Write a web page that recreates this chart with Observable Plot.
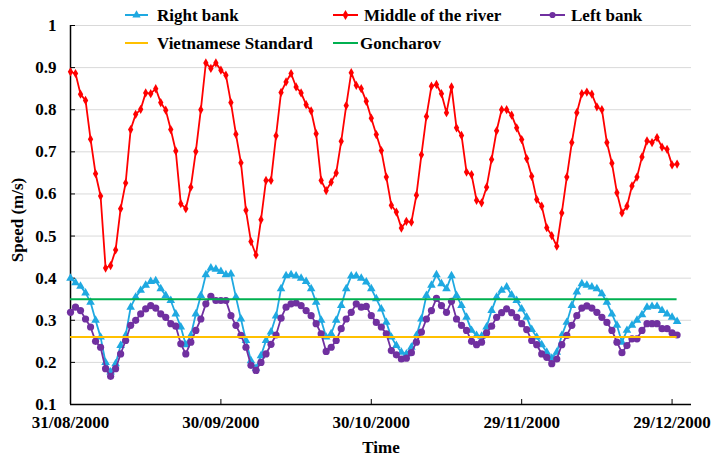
<!DOCTYPE html>
<html>
<head>
<meta charset="utf-8">
<script src="https://cdn.jsdelivr.net/npm/d3@7"></script>
<script src="https://cdn.jsdelivr.net/npm/@observablehq/plot@0.6"></script>
<style>
  html, body { margin: 0; padding: 0; background: #fff; }
  #wrap { position: relative; width: 719px; height: 461px; font-family: "Liberation Serif", "DejaVu Serif", serif; }
  #wrap svg, #wrap text { font-family: "Liberation Serif", "DejaVu Serif", serif !important; }
  #legend { position: absolute; left: 0; top: 0; }
</style>
</head>
<body>
<div id="wrap"></div>
<script>
const startDate = "2000-08-31";
const xTickLabels = ["31/08/2000", "30/09/2000", "30/10/2000", "29/11/2000", "29/12/2000"];
const yTicks = [0.1, 0.2, 0.3, 0.4, 0.5, 0.6, 0.7, 0.8, 0.9, 1];

const seriesNames = ["Right bank", "Middle of the river", "Left bank"];
const standardNames = ["Vietnamese Standard", "Goncharov"];
const standardValues = [0.26, 0.35];

const rightBank = [0.400,0.389,0.381,0.365,0.343,0.300,0.260,0.200,0.177,0.197,0.240,0.264,0.331,0.355,0.371,0.383,0.392,0.394,0.375,0.359,0.347,0.315,0.284,0.242,0.264,0.315,0.359,0.408,0.424,0.421,0.416,0.408,0.410,0.355,0.303,0.252,0.204,0.186,0.216,0.252,0.272,0.310,0.375,0.406,0.408,0.405,0.400,0.392,0.375,0.343,0.300,0.260,0.268,0.300,0.335,0.375,0.405,0.405,0.400,0.391,0.375,0.351,0.327,0.295,0.260,0.240,0.224,0.220,0.236,0.264,0.303,0.359,0.383,0.408,0.387,0.375,0.406,0.359,0.335,0.307,0.276,0.264,0.262,0.284,0.323,0.355,0.371,0.379,0.360,0.347,0.327,0.307,0.278,0.260,0.242,0.224,0.210,0.224,0.264,0.295,0.335,0.367,0.387,0.383,0.379,0.375,0.363,0.343,0.315,0.288,0.248,0.276,0.288,0.300,0.313,0.331,0.333,0.333,0.323,0.315,0.307,0.297];

const middle = [0.890,0.886,0.837,0.822,0.730,0.648,0.595,0.424,0.430,0.467,0.565,0.626,0.753,0.789,0.801,0.840,0.838,0.850,0.817,0.799,0.753,0.702,0.577,0.565,0.616,0.701,0.800,0.911,0.898,0.911,0.894,0.882,0.817,0.742,0.674,0.561,0.487,0.455,0.539,0.632,0.632,0.738,0.841,0.866,0.886,0.854,0.840,0.812,0.797,0.743,0.632,0.608,0.628,0.650,0.725,0.810,0.888,0.858,0.850,0.820,0.780,0.741,0.703,0.640,0.573,0.557,0.519,0.535,0.533,0.597,0.693,0.784,0.856,0.860,0.838,0.793,0.854,0.757,0.739,0.652,0.646,0.585,0.579,0.616,0.682,0.750,0.800,0.800,0.787,0.757,0.729,0.684,0.642,0.587,0.571,0.520,0.501,0.476,0.555,0.640,0.722,0.793,0.838,0.842,0.837,0.807,0.800,0.722,0.673,0.603,0.555,0.571,0.619,0.640,0.688,0.726,0.722,0.734,0.711,0.706,0.669,0.671];

const leftBank = [0.319,0.331,0.323,0.303,0.284,0.250,0.236,0.185,0.167,0.185,0.220,0.252,0.288,0.300,0.315,0.327,0.335,0.329,0.315,0.307,0.292,0.286,0.244,0.220,0.248,0.276,0.303,0.339,0.357,0.347,0.347,0.347,0.311,0.288,0.264,0.236,0.193,0.181,0.200,0.220,0.243,0.265,0.305,0.331,0.339,0.341,0.335,0.323,0.311,0.292,0.268,0.226,0.236,0.252,0.280,0.303,0.319,0.339,0.331,0.333,0.311,0.295,0.284,0.268,0.228,0.218,0.208,0.210,0.223,0.248,0.272,0.303,0.323,0.352,0.335,0.319,0.345,0.303,0.288,0.276,0.250,0.242,0.248,0.270,0.286,0.307,0.318,0.327,0.318,0.307,0.292,0.278,0.252,0.242,0.220,0.212,0.197,0.208,0.242,0.264,0.288,0.311,0.329,0.334,0.329,0.319,0.307,0.295,0.276,0.248,0.223,0.240,0.256,0.256,0.276,0.292,0.292,0.292,0.280,0.280,0.270,0.265];

const colors = {
  "Right bank": "#1fa9e1",
  "Middle of the river": "#ff0000",
  "Left bank": "#7030a0",
  "Vietnamese Standard": "#ffc000",
  "Goncharov": "#00b050"
};
const symbols = {"Right bank": "triangle", "Middle of the river": "diamond", "Left bank": "circle"};
const radii = {"Right bank": 3.2, "Middle of the river": 2.8, "Left bank": 3.6};

const parseD = d3.utcParse("%d/%m/%Y");
const t0 = d3.utcParse("%Y-%m-%d")(startDate);
const dates = rightBank.map((_, i) => d3.utcDay.offset(t0, i));
const xTicks = xTickLabels.map(parseD);
const fmt = d3.utcFormat("%d/%m/%Y");

const seriesValues = [rightBank, middle, leftBank];
const rows = [];
seriesNames.forEach((name, s) => {
  seriesValues[s].forEach((v, i) => rows.push({series: name, date: dates[i], value: v}));
});

const xDomain = [t0, new Date(Date.UTC(2001, 0, 1, 21))];
const FONT = "'Liberation Serif', 'DejaVu Serif', serif";

const marks = [
  Plot.gridY(yTicks.slice(1), {stroke: "#d9d9d9", strokeOpacity: 1, strokeWidth: 1}),
  Plot.axisY({ticks: yTicks, tickSize: 0, tickPadding: 14, tickFormat: d => String(+d.toFixed(1)), label: null}),
  Plot.axisY({ticks: yTicks, tickSize: -5, text: null, label: null, stroke: "#000"}),
  Plot.axisX({ticks: xTicks, tickSize: 0, tickPadding: 11, tickFormat: fmt, label: null}),
  Plot.axisX({ticks: xTicks, tickSize: -5, text: null, label: null, stroke: "#000"}),
  Plot.ruleX([xDomain[0]], {stroke: "#000", strokeWidth: 1.5}),
  Plot.ruleY([0.1], {stroke: "#000", strokeWidth: 1.5}),
];

seriesNames.forEach(name => {
  const d = rows.filter(r => r.series === name);
  marks.push(Plot.line(d, {x: "date", y: "value", stroke: colors[name], strokeWidth: 1.8}));
  marks.push(Plot.dot(d, {x: "date", y: "value", symbol: symbols[name], r: radii[name], fill: colors[name], stroke: "none"}));
});

standardNames.forEach((name, k) => {
  marks.push(Plot.ruleY([standardValues[k]], {x1: dates[0], x2: dates[dates.length - 1], stroke: colors[name], strokeWidth: 2}));
});

marks.push(Plot.text(["Speed (m/s)"], {frameAnchor: "left", textAnchor: "middle", lineAnchor: "middle", dx: -53, dy: 5, rotate: -90, fontSize: 17, fontWeight: "bold"}));
marks.push(Plot.text(["Time"], {frameAnchor: "bottom", textAnchor: "middle", lineAnchor: "middle", dy: 43, fontSize: 17, fontWeight: "bold"}));

const chart = Plot.plot({
  width: 719,
  height: 461,
  marginLeft: 70,
  marginRight: 28,
  marginTop: 25,
  marginBottom: 57,
  style: {fontFamily: FONT, fontSize: "17px", fontWeight: "bold", color: "#000", background: "#fff", overflow: "visible"},
  x: {type: "utc", domain: xDomain},
  y: {domain: [0.1, 1]},
  marks
});

const wrap = document.getElementById("wrap");
wrap.appendChild(chart);

// Legend overlay
const legendItems = [
  {name: "Right bank", lx: 125, lw: 23, tx: 157, y: 15},
  {name: "Middle of the river", lx: 333, lw: 25, tx: 364, y: 15},
  {name: "Left bank", lx: 540, lw: 25, tx: 571, y: 15},
  {name: "Vietnamese Standard", lx: 125, lw: 23, tx: 157, y: 43},
  {name: "Goncharov", lx: 333, lw: 25, tx: 360, y: 43}
];
const lsvg = d3.select(wrap).append("svg")
  .attr("id", "legend").attr("width", 719).attr("height", 60)
  .style("font-family", FONT)
  .style("font-weight", "bold").style("font-size", "17px");
legendItems.forEach(it => {
  const g = lsvg.append("g");
  g.append("line").attr("x1", it.lx).attr("x2", it.lx + it.lw).attr("y1", it.y).attr("y2", it.y)
    .attr("stroke", colors[it.name]).attr("stroke-width", 2);
  if (symbols[it.name]) {
    g.append("path").attr("transform", `translate(${it.lx + it.lw / 2},${it.y})`)
      .attr("d", d3.symbol(symbols[it.name] === "triangle" ? d3.symbolTriangle : symbols[it.name] === "diamond" ? d3.symbolDiamond : d3.symbolCircle, 30)())
      .attr("fill", colors[it.name]);
  }
  g.append("text").attr("x", it.tx).attr("y", it.y).attr("dy", "0.35em").attr("fill", "#000").text(it.name);
});
</script>
</body>
</html>
